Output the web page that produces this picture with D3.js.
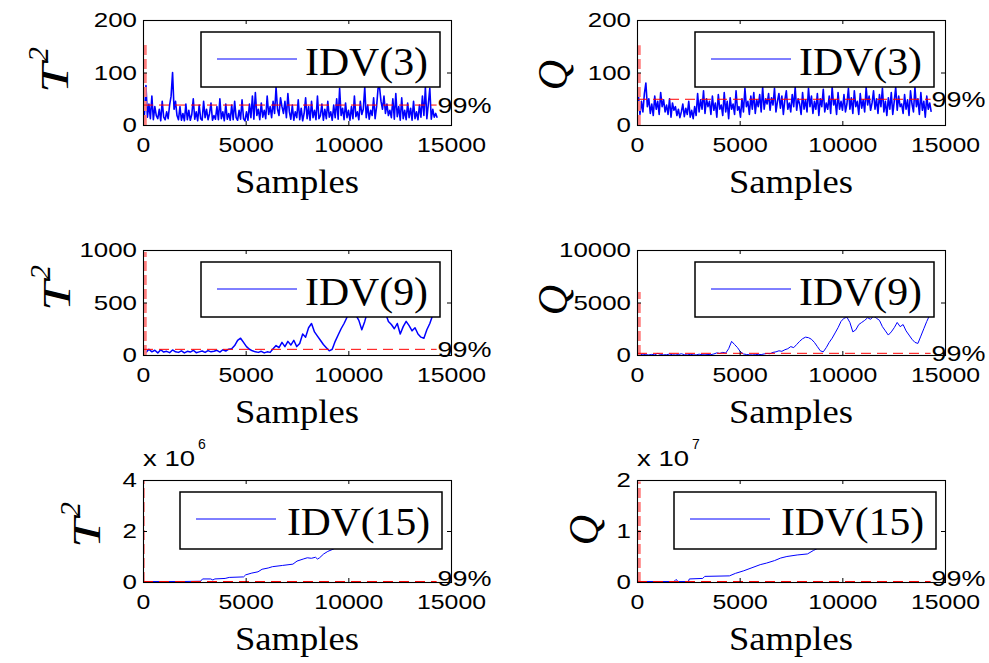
<!DOCTYPE html>
<html><head><meta charset="utf-8">
<script src="https://cdn.jsdelivr.net/npm/d3@7"></script>
<style>
html,body{margin:0;padding:0;background:#fff;}
svg{display:block;}
</style></head><body>
<svg id="fig" width="989" height="663"></svg>
<script>
// ---- data -------------------------------------------------------------
const xTicks = [0, 5000, 10000, 15000];
const step3 = 72;    // sample spacing of the IDV(3) statistic records
const step9 = 144;   // sample spacing of the IDV(9) statistic records

const t2Idv3 = [
  50,20,75,15,40,12,55,10,35,18, 12,30,8,45,15,10,25,12,38,55,
  100,30,45,18,10,35,9,22,8,40, 10,28,9,20,50,11,25,8,38,12,
  9,45,14,30,10,22,42,9,18,11, 35,10,50,12,25,8,40,11,22,9,
  38,10,45,14,9,28,11,48,12,8, 25,9,40,14,55,11,62,18,30,10,
  42,15,28,12,55,20,35,14,45,22, 72,30,18,52,35,22,45,14,60,25,
  11,38,9,25,14,48,10,32,8,22, 52,12,35,9,45,14,28,10,55,12,
  18,40,9,30,12,45,15,25,9,38, 14,50,11,70,18,32,10,42,14,28,
  9,35,12,55,16,25,10,45,20,30, 72,14,38,11,28,18,52,12,35,70,
  72,45,30,55,22,40,18,28,14,50, 11,60,16,35,9,52,12,28,10,42,
  14,32,9,45,12,25,10,38,15,55, 18,72,12,40,70,11,30,15,22,14
];
const qIdv3 = [
  30,55,20,45,25,60,80,35,50,22, 40,18,55,30,45,20,62,35,48,25,
  38,20,50,15,42,28,35,18,30,14, 25,40,16,32,20,45,15,28,12,35,
  18,60,25,48,30,65,22,50,35,45, 20,55,28,42,15,58,30,38,18,62,
  25,45,12,52,30,40,20,65,28,35, 15,50,25,70,35,45,20,55,30,62,
  22,48,35,58,25,72,30,50,40,60, 28,52,38,70,25,45,60,32,55,20,
  48,65,30,42,25,58,35,72,28,50, 40,20,62,30,48,25,70,35,55,22,
  45,30,60,18,50,35,68,25,42,30, 55,22,72,38,48,20,62,30,45,28,
  58,25,40,70,30,52,22,65,35,45, 20,60,32,48,25,72,38,55,28,42,
  65,30,50,22,58,35,70,25,45,18, 52,30,62,20,45,72,28,55,35,40,
  22,58,30,48,18,65,40,25,72,35, 50,20,62,28,45,15,55,30,42,25
];
const t2Idv9 = [
  40,25,55,30,45,20,50,28,35,22, 48,30,25,40,20,35,28,45,22,30,
  38,25,42,30,35,45,28,50,38,55, 60,90,140,160,120,80,55,40,30,25,
  35,20,30,25,60,90,70,120,80,130, 95,140,80,110,200,170,260,300,220,180,
  140,100,70,40,55,130,190,250,300,360, 420,450,380,330,240,320,420,470,500,480,
  520,450,400,320,290,250,300,200,270,320, 280,230,260,200,170,160,240,300,380,420
];
const qIdv9 = [
  50,20,80,30,10,60,20,150,40,15, 30,90,20,10,40,120,30,15,60,20,
  10,80,30,20,50,30,100,200,150,250, 180,600,1300,1000,700,300,100,50,20,10,
  30,60,40,100,150,120,250,300,400,350, 500,600,800,700,1000,1300,1550,1700,1650,1500,
  1200,800,400,300,700,1200,1600,2100,2600,3200, 3500,3600,3100,2200,2400,2900,3100,3300,3550,3400,
  3700,3500,3300,2700,2300,1900,2200,2600,3100,2700, 2900,2300,1900,1500,1200,1100,1800,2500,3200,3800
];
// IDV(15): [sample, value]; T² in units of 10^6, Q in units of 10^7
const t2Idv15 = [
  [0,0.02],[1000,0.02],[2000,0.02],[2800,0.03],[2900,0.12],[3300,0.12],[3400,0.08],
  [3500,0.12],[4000,0.14],[4200,0.18],[4900,0.2],[5000,0.28],[5300,0.35],[5600,0.4],
  [5800,0.5],[6100,0.55],[6300,0.6],[6800,0.65],[7300,0.7],[7500,0.82],[7800,0.9],
  [8000,0.95],[8200,0.93],[8400,0.97],[8500,0.9],[8600,0.95],[8800,1.1],[9000,1.2],
  [9300,1.3],[9600,1.45],[10000,1.6],[11000,1.9],[12000,2.1],[13000,2.4],[14300,2.7]
];
const qIdv15 = [
  [0,0.01],[1800,0.01],[1900,0.05],[2000,0.01],[2500,0.01],[2550,0.06],[3200,0.07],
  [3300,0.11],[4500,0.12],[4800,0.17],[5200,0.22],[5600,0.28],[6000,0.34],[6300,0.37],
  [6700,0.42],[7000,0.47],[7300,0.5],[7800,0.53],[8300,0.55],[8600,0.62],[8900,0.68],
  [9500,0.8],[10500,0.95],[11500,1.1],[12500,1.3],[13500,1.45],[14300,1.6]
];

const yTickSets   = [[0,100,200],[0,100,200],[0,500,1000],[0,5000,10000],[0,2,4],[0,1,2]];
const limits99    = [38, 49, 54, 160, 0.02, 0.01];     // 99% control limits
const faultNames  = ["IDV(3)","IDV(3)","IDV(9)","IDV(9)","IDV(15)","IDV(15)"];
const statNames   = ["T","Q","T","Q","T","Q"];
const exponents   = [null,null,null,null,6,7];
const onsetTops   = [155, 152, 980, 6000, 4, 1.97];    // extent of the fault-onset marker
const endSample   = 14300;

// ---- layout -----------------------------------------------------------
const colX = [[143,451],[637,945]];
const rowY = [[20,125],[250,355],[480,582]];
const ylabPos = [[68,71],[570,75],[70,289],[570,300],[100,526],[601,530]];
const SERIF = "'Liberation Serif','Times New Roman',serif";
const SANS  = "'Liberation Sans',Arial,sans-serif";

const panels = [
  {vals: t2Idv3.map((v,i)=>[i*step3,v]), w:1.6},
  {vals: qIdv3.map((v,i)=>[i*step3,v]),  w:1.6},
  {vals: t2Idv9.map((v,i)=>[i*step9,v]), w:1.5},
  {vals: qIdv9.map((v,i)=>[i*step9,v]),  w:1},
  {vals: t2Idv15, w:1},
  {vals: qIdv15,  w:1}
];

const svg = d3.select("#fig");
const stretch = (sel, perChar) => sel.each(function(){
  const t = d3.select(this).text();
  d3.select(this).attr("textLength", t.length*perChar).attr("lengthAdjust","spacingAndGlyphs");
});

panels.forEach((p, k) => {
  const row = Math.floor(k/2);
  const [x0,x1] = colX[k%2], [y0,y1] = rowY[row];
  const yt = yTickSets[k];
  const x = d3.scaleLinear().domain([0,15000]).range([x0,x1]);
  const y = d3.scaleLinear().domain([0, yt[yt.length-1]]).range([y1,y0]);
  const g = svg.append("g");

  const clipId = "clip"+k;
  svg.append("clipPath").attr("id",clipId).append("rect")
    .attr("x",x0).attr("y",y0).attr("width",x1-x0).attr("height",y1-y0);
  const plot = g.append("g").attr("clip-path",`url(#${clipId})`);

  // statistic trace
  plot.append("path").datum(p.vals)
    .attr("fill","none").attr("stroke","#0000ff").attr("stroke-width",p.w)
    .attr("stroke-linejoin","round")
    .attr("d", d3.line().x(d=>x(d[0])).y(d=>y(d[1])));

  // fault-onset marker
  const ox = x(k===4 ? 60 : 110);
  plot.append("line")
    .attr("x1",ox).attr("x2",ox).attr("y1",y(0)).attr("y2",y(onsetTops[k]))
    .attr("stroke", k===4 ? "#ff6a6a" : "#ff7f7f").attr("stroke-width", k===4 ? 1 : 3)
    .attr("stroke-dasharray","10,4");

  // 99% control limit
  plot.append("line")
    .attr("x1",x(0)).attr("x2",x(endSample)).attr("y1",y(limits99[k])).attr("y2",y(limits99[k]))
    .attr("stroke","#ff0000").attr("stroke-width",1).attr("stroke-dasharray","10,6");

  // axes with inward ticks on every side
  const ax = g.append("g").attr("transform",`translate(0,${y1})`)
    .call(d3.axisBottom(x).tickValues(xTicks).tickSize(-4).tickPadding(13).tickFormat(d3.format("d")));
  g.append("g").attr("transform",`translate(0,${y0})`)
    .call(d3.axisTop(x).tickValues(xTicks).tickSize(-4).tickFormat(""));
  const ay = g.append("g").attr("transform",`translate(${x0},0)`)
    .call(d3.axisLeft(y).tickValues(yt).tickSize(-4).tickPadding(6).tickFormat(d3.format("d")));
  g.append("g").attr("transform",`translate(${x1},0)`)
    .call(d3.axisRight(y).tickValues(yt).tickSize(-4).tickFormat(""));
  g.selectAll(".domain").remove();
  g.selectAll(".tick line").attr("stroke","#000");
  ax.selectAll("text").attr("font-family",SANS).attr("font-size",20).attr("fill","#000").call(stretch, 13.8);
  ay.selectAll("text").attr("font-family",SANS).attr("font-size",21).attr("fill","#000").call(stretch, 14.4);

  g.append("rect").attr("x",x0+0.5).attr("y",y0+0.5)
    .attr("width",x1-x0).attr("height",y1-y0)
    .attr("fill","none").attr("stroke","#000").attr("stroke-width",1.1);

  // exponent note
  if (exponents[k]) {
    g.append("text").attr("x",x0).attr("y",y0-14)
      .attr("font-family",SANS).attr("font-size",22).text("x 10")
      .attr("textLength",52).attr("lengthAdjust","spacingAndGlyphs");
    g.append("text").attr("x",x0+55).attr("y",y0-31)
      .attr("font-family",SANS).attr("font-size",14).text(exponents[k]);
  }

  // legend
  const long = faultNames[k].length > 6;
  const bx = x0 + (long ? 37 : 58), bw = long ? 262 : 239;
  const by = y0 + 12, bh = long ? 57 : 55;
  g.append("rect").attr("x",bx).attr("y",by).attr("width",bw).attr("height",bh)
    .attr("fill","#fff").attr("stroke","#000").attr("stroke-width",1.5);
  g.append("line").attr("x1",bx+16).attr("x2",bx+96).attr("y1",by+27).attr("y2",by+27)
    .attr("stroke","#0000ff").attr("stroke-width",1);
  g.append("text").attr("x",bx+(long?107:104)).attr("y",by+43)
    .attr("font-family",SERIF).attr("font-size",40).text(faultNames[k])
    .attr("textLength", long ? 143 : 123).attr("lengthAdjust","spacingAndGlyphs");

  // limit tag
  g.append("text").attr("x",x(endSample)+1).attr("y",y(limits99[k]) - (row===2 ? 3 : 0)).attr("dy","0.36em")
    .attr("font-family",SANS).attr("font-size",22).text("99%")
    .attr("textLength",54).attr("lengthAdjust","spacingAndGlyphs");

  // x label
  g.append("text").attr("x",(x0+x1)/2).attr("y",y1+68).attr("text-anchor","middle")
    .attr("font-family",SERIF).attr("font-size",34).text("Samples")
    .attr("textLength",124).attr("lengthAdjust","spacingAndGlyphs");

  // y label
  const [lx, ly] = ylabPos[k];
  const yl = g.append("g").attr("transform",`translate(${lx},${ly}) rotate(-90)`);
  if (statNames[k] === "T") {
    yl.append("text").attr("x",-22).attr("y",0)
      .attr("font-family",SERIF).attr("font-style","italic").attr("font-size",40).text("T")
      .attr("textLength",30).attr("lengthAdjust","spacingAndGlyphs");
    yl.append("text").attr("x",9).attr("y",-20)
      .attr("font-family",SERIF).attr("font-style","italic").attr("font-size",30).text("2");
  } else {
    yl.append("text").attr("x",0).attr("y",-3).attr("text-anchor","middle")
      .attr("font-family",SERIF).attr("font-style","italic").attr("font-size",42).text("Q");
  }
});
</script>
</body></html>
